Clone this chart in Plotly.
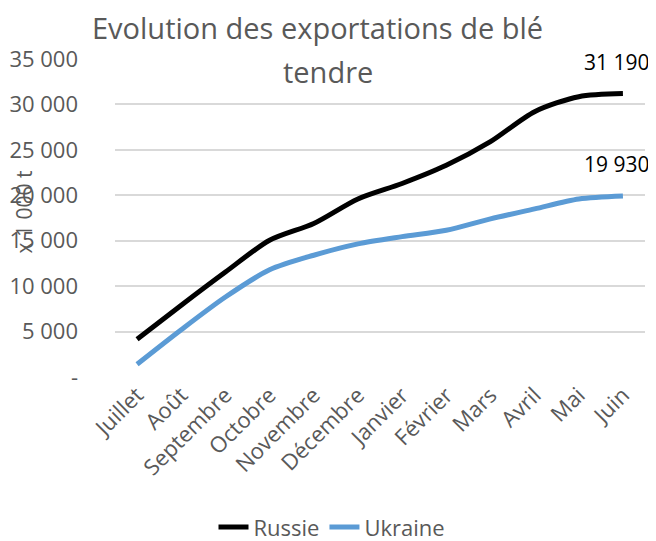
import plotly.graph_objects as go

months = ["Juillet", "Août", "Septembre", "Octobre", "Novembre", "Décembre",
          "Janvier", "Février", "Mars", "Avril", "Mai", "Juin"]
russie = [4150, 7900, 11550, 15050, 16900, 19600, 21300, 23300, 25900, 29200, 30850, 31190]
ukraine = [1400, 5200, 8800, 11800, 13400, 14650, 15450, 16150, 17400, 18500, 19600, 19930]
ytick_vals = [0, 5000, 10000, 15000, 20000, 25000, 30000, 35000]
title_lines = ["Evolution des exportations de blé", "tendre"]


def fmt(v):
    return "-" if v == 0 else f"{v:,}".replace(",", " ")


FONT = "Open Sans, sans-serif"
GREY = "#595959"

fig = go.Figure()
fig.add_trace(go.Scatter(x=months, y=russie, name="Russie", mode="lines",
                         line=dict(color="#000000", width=5, shape="spline", smoothing=0.8)))
fig.add_trace(go.Scatter(x=months, y=ukraine, name="Ukraine", mode="lines",
                         line=dict(color="#5B9BD5", width=5, shape="spline", smoothing=0.8)))

# plot area (figure coords): x 107..637, y 51..369
annotations = [
    dict(text=title_lines[0], xref="paper", yref="paper", x=0.383, y=1.1,
         xanchor="center", yanchor="middle", showarrow=False,
         font=dict(size=29, color=GREY, family=FONT)),
    dict(text=title_lines[1], xref="paper", yref="paper", x=0.402, y=0.962,
         xanchor="center", yanchor="middle", showarrow=False,
         font=dict(size=29, color=GREY, family=FONT)),
    dict(text="x 1 000 t", textangle=-90, xref="paper", yref="paper",
         x=-0.172, y=0.52, xanchor="center", yanchor="middle", showarrow=False,
         font=dict(size=21, color=GREY, family=FONT)),
]
for series in (russie, ukraine):
    annotations.append(dict(text=fmt(series[-1]), x=months[-1], y=series[-1], xref="x", yref="y",
                            showarrow=False, yshift=32, xshift=-6,
                            font=dict(size=21, color="#000000", family=FONT)))

fig.update_layout(
    width=648, height=533,
    margin=dict(l=107, r=11, t=51, b=164),
    paper_bgcolor="white", plot_bgcolor="white",
    font=dict(family=FONT, color=GREY, size=22),
    showlegend=True,
    legend=dict(orientation="h", x=0.5, xanchor="center", y=0.026, yanchor="middle",
                xref="container", yref="container", font=dict(size=22, color=GREY)),
    xaxis=dict(showgrid=False, showline=False, ticks="", tickangle=-45, automargin=False,
               range=[-0.5, 11.5], tickfont=dict(size=22, color=GREY)),
    yaxis=dict(range=[0, 35000], tickvals=ytick_vals, ticktext=[fmt(v) for v in ytick_vals],
               showgrid=True, gridcolor="#D9D9D9", gridwidth=1.5, zeroline=False, automargin=False,
               showline=False, ticks="", tickfont=dict(size=22, color=GREY), ticklabelstandoff=36),
    annotations=annotations,
)

fig.write_html("out.html")
